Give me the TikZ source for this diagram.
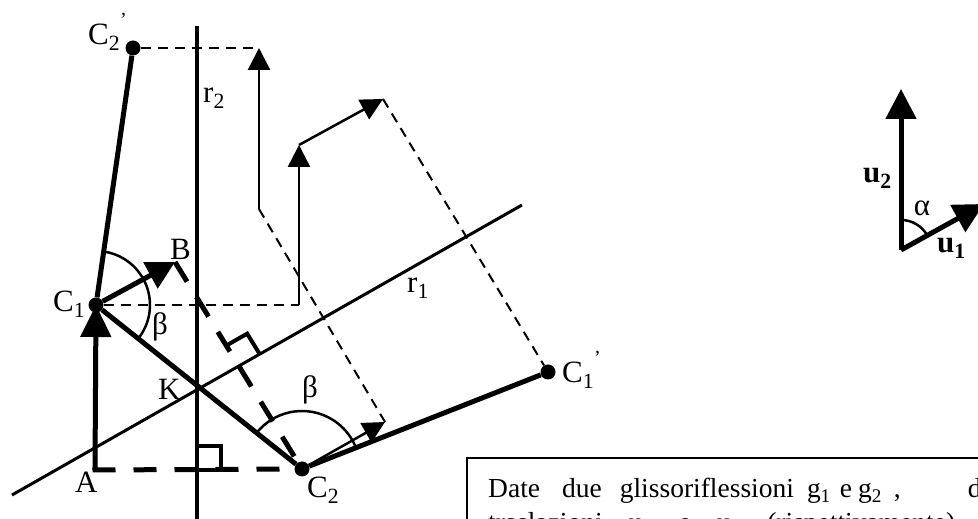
\documentclass[tikz,border=0pt]{standalone}
\usepackage{fontspec}
\setmainfont{Liberation Serif}
\usetikzlibrary{calc, arrows.meta}
\tikzset{
  pointdot/.style  = {circle, fill, inner sep=0pt, minimum size=15pt},
  seg/.style       = {line width=5pt},
  mirror/.style    = {line width=4pt},
  guide/.style     = {line width=2pt, dash pattern=on 10pt off 7pt},
  bigdash/.style   = {line width=5pt, dash pattern=on 23pt off 18pt},
  vec/.style       = {line width=2.5pt, -{Triangle[length=22pt, width=22pt]}},
  bigvec/.style    = {line width=5pt, -{Triangle[length=30pt, width=30pt]}},
  rightang/.style  = {line width=4pt, line join=miter},
  anglearc/.style  = {line width=2.5pt},
  lab/.style       = {font=\fontsize{31}{34}\selectfont, inner sep=0pt},
  boxtext/.style   = {font=\fontsize{27.5}{31}\selectfont, inner sep=0pt, anchor=base west},
}
\newcommand{\ptname}[2]{#1\textsubscript{#2}}
\newcommand{\ptprime}[2]{#1\textsubscript{#2}\raisebox{0.6em}{\fontsize{20}{20}\selectfont ’}}

\begin{document}
\begin{tikzpicture}[x=1pt, y=1pt]
\useasboundingbox (0,0) rectangle (978,519);
\clip (0,0) rectangle (978,519);
% points of the figure
\coordinate (a) at (95,49);
\coordinate (b) at (175,257);
\node[pointdot] (c1)  at (96,214)  {};
\node[pointdot] (c2)  at (302,50)  {};
\node[pointdot] (c2p) at (133,471) {};
\node[pointdot] (c1p) at (548,147) {};
\coordinate (r1s) at (12,24);
\coordinate (r1e) at (522,314);
\coordinate (r2s) at (197,-5);
\coordinate (r2e) at (197,493);
\coordinate (h)  at (intersection of b--c2 and r1s--r1e);
\coordinate (ha) at (197,49);
% translation vectors
\coordinate (v2s) at (259,310);
\coordinate (v2e) at (259,471);
\coordinate (w2s) at (299,214);
\coordinate (w2e) at (299,374);
\coordinate (w1e) at (383,420);
\coordinate (v1e) at (385,97);
% axes
\draw[line width=3pt] (r1s) -- (r1e);
\draw[mirror] (r2s) -- (r2e);
% construction
\draw[guide] (c2p) -- (v2e);
\draw[guide] (c1) -- (w2s);
\draw[guide] (v2s) -- (v1e);
\draw[guide] (w1e) -- (c1p);
\draw[vec] (v2s) -- (v2e);
\draw[vec] (w2s) -- (w2e);
\draw[vec] (w2e) -- (w1e);
\draw[vec] (c2) -- (v1e);
% segments
\draw[seg] (c1) -- (c2p);
\draw[seg] (c1) -- (c2);
\draw[seg] (c2) -- (c1p);
\draw[bigdash] ([xshift=-2.5pt]a) -- (c2);
\draw[bigdash] (b) -- (c2);
\draw[bigvec, -{Triangle[length=32pt, width=30pt]}] (a) -- (c1.center);
\draw[bigvec, -{Triangle[length=28pt, width=29pt]}] (c1) -- (b);
% right angles
\draw[rightang] (ha) rectangle ++(24,24);
\coordinate (hb) at ($(h)!24pt!(b)$);
\coordinate (hr) at ($(h)!24pt!(r1e)$);
\draw[rightang] (hb) -- ($(hb)+(hr)-(h)$) -- (hr);
% angles
\draw[anglearc] ([shift={(81.8:54pt)}]c1.center) arc[start angle=81.8, end angle=-38.5, radius=54pt];
\draw[anglearc] ([shift={(141.5:58pt)}]c2.center) arc[start angle=141.5, end angle=21.5, radius=58pt];
% labels
\node[lab, anchor=base west] (lc2p) at (88,474)  {\ptprime{C}{2}};
\node[lab, anchor=base west] (lc1)  at (53,207)  {\ptname{C}{1}};
\node[lab, anchor=base west] (lc2)  at (307,21)  {\ptname{C}{2}};
\node[lab, anchor=base west] (lc1p) at (562,136) {\ptprime{C}{1}};
\node[lab, anchor=base west] (la)   at (75,26)   {A};
\node[lab, anchor=base west] (lk)   at (158,119) {K};
\node[lab, anchor=base west] (lb)   at (170,259) {B};
\node[lab] (lbeta1) at (160,192) {β};
\node[lab] (lbeta2) at (310,129) {β};
\node[lab, anchor=base west] (lr2) at (203,416) {\ptname{r}{2}};
\node[lab, anchor=base west] (lr1) at (407,226) {\ptname{r}{1}};
% vectors u1, u2
\coordinate (o)   at (901,269);
\coordinate (u2e) at (901,430);
\coordinate (u1e) at (984,315);
\draw[bigvec] (o) -- (u2e);
\draw[bigvec] (o) -- (u1e);
\draw[anglearc] ([shift={(90:30pt)}]o) arc[start angle=90, end angle=29, radius=30pt];
\node[lab, anchor=base west] (lu2) at (863,336) {\textbf{\ptname{u}{2}}};
\node[lab, anchor=base west] (lu1) at (937,266) {\textbf{\ptname{u}{1}}};
\node[lab] (lalpha) at (922,311) {α};
% text box
\draw[line width=2pt] (467,-80) rectangle (1000,61);
\node[boxtext] (txt1) at (488,21) {Date\hspace{22pt}due\hspace{18pt}glissoriflessioni\hspace{13pt}g\textsubscript{1}\hspace{9pt}e\hspace{6pt}g\textsubscript{2}\hspace{12pt},\hspace{67pt}di};
\node[boxtext] (txt2) at (488,-13) {\makebox[500pt][s]{traslazioni u\textsubscript{1} e u\textsubscript{2} (rispettivamente) ,}};
\end{tikzpicture}
\end{document}
